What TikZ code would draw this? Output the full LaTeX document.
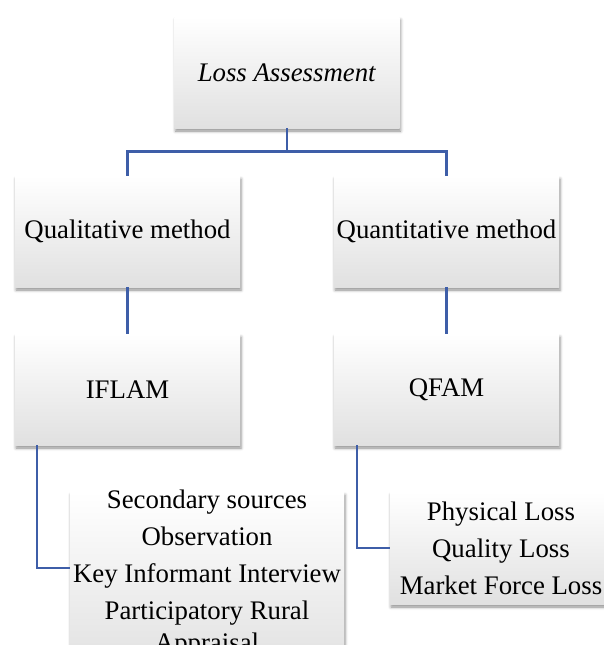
\documentclass[tikz,border=0pt]{standalone}
\usepackage{fontspec}
\setmainfont{Liberation Serif}
\usetikzlibrary{shadows.blur}
\definecolor{linkblue}{RGB}{62,94,168}
\tikzset{
  box/.style={minimum width=225pt,minimum height=111pt,inner sep=0pt,
    top color=white,middle color=white,bottom color=black!12,
    blur shadow={shadow xshift=1pt,shadow yshift=-3pt,shadow blur radius=3pt,shadow opacity=45}},
  conn/.style={draw=linkblue,line width=2.5pt}
}
\begin{document}
\begin{tikzpicture}[x=1pt,y=-1pt,font=\fontsize{26.8}{37}\selectfont]
	\useasboundingbox (0,0) rectangle (604,645);
	\clip (0,0) rectangle (604,645);
	% boxes
	\node[box] (top) at (287,72.5) {\textit{Loss Assessment}};
	\node[box] (qual) at (127.5,231.5) {Qualitative method};
	\node[box] (quan) at (446.5,231.5) {Quantitative method};
	\node[box] (iflam) at (127.5,389.5) {IFLAM};
	\node[box] (qfam) at (446.5,389.5) {QFAM};
	\node[box,minimum width=274pt,minimum height=180pt] (qualist) at (207,582) {};
	\node[box,minimum width=222pt,minimum height=112pt] (quanlist) at (501,548) {};
	\node[align=center,anchor=north,inner sep=0pt] (qualtxt) at (207,489.5) {Secondary sources\\Observation\\Key Informant Interview\\Participatory Rural\\[-5pt]Appraisal};
	\node[align=center,inner sep=0pt] (quantxt) at (quanlist) {Physical Loss\\Quality Loss\\Market Force Loss};
	% connectors
	\draw[conn] (top.south) -- ++(0,23.5) -| (qual.north);
	\draw[conn] (top.south) -- ++(0,23.5) -| (quan.north);
	\draw[conn] (qual.south) -- (iflam.north);
	\draw[conn] (quan.south) -- (qfam.north);
	\draw[conn] ([xshift=22pt]iflam.south west) |- ([yshift=14pt]qualist.west);
	\draw[conn] ([xshift=23pt]qfam.south west) |- (quanlist.west);
\end{tikzpicture}
\end{document}
